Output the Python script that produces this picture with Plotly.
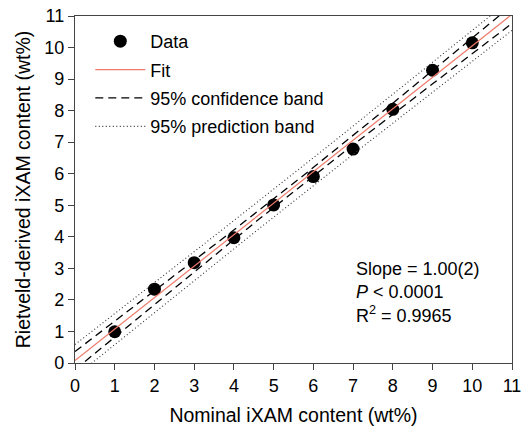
import numpy as np
import plotly.graph_objects as go

# Data
nominal = [1, 2, 3, 4, 5, 6, 7, 8, 9, 10]
rietveld = [0.99, 2.34, 3.18, 3.97, 5.01, 5.91, 6.78, 8.04, 9.28, 10.15]
x_ticks = [0, 1, 2, 3, 4, 5, 6, 7, 8, 9, 10, 11]
y_ticks = [0, 1, 2, 3, 4, 5, 6, 7, 8, 9, 10, 11]
stats_text = ["Slope = 1.00(2)", "<i>P</i> < 0.0001", "R<sup>2</sup> = 0.9965"]

# Linear regression and 95% bands computed from the data
x = np.array(nominal, dtype=float)
y = np.array(rietveld, dtype=float)
n = len(x)
slope, intercept = np.polyfit(x, y, 1)
resid = y - (slope * x + intercept)
s = np.sqrt(np.sum(resid ** 2) / (n - 2))
sxx = np.sum((x - x.mean()) ** 2)
t_crit = 2.306  # t(0.975, df=8)
xf = np.linspace(0, 11, 200)
yf = slope * xf + intercept
conf = t_crit * s * np.sqrt(1 / n + (xf - x.mean()) ** 2 / sxx)
pred = t_crit * s * np.sqrt(1 + 1 / n + (xf - x.mean()) ** 2 / sxx)

FONT = "Arial, Liberation Sans, sans-serif"
fig = go.Figure()
fig.add_trace(go.Scatter(x=nominal, y=rietveld, mode="markers", name="Data",
                         marker=dict(color="black", size=13), legendgroup="a"))
fig.add_trace(go.Scatter(x=xf, y=yf, mode="lines", name="Fit",
                         line=dict(color="#f07a6a", width=1.2), legendgroup="b"))
fig.add_trace(go.Scatter(x=xf, y=yf + conf, mode="lines", name="95% confidence band",
                         line=dict(color="black", width=1.3, dash="8px,5px"), legendgroup="c"))
fig.add_trace(go.Scatter(x=xf, y=yf - conf, mode="lines", showlegend=False,
                         line=dict(color="black", width=1.3, dash="8px,5px"), legendgroup="c"))
fig.add_trace(go.Scatter(x=xf, y=yf + pred, mode="lines", name="95% prediction band",
                         line=dict(color="#333", width=1.1, dash="1px,2.5px"), legendgroup="d"))
fig.add_trace(go.Scatter(x=xf, y=yf - pred, mode="lines", showlegend=False,
                         line=dict(color="#333", width=1.1, dash="1px,2.5px"), legendgroup="d"))

fig.add_annotation(x=0.638, y=0.305, xref="paper", yref="paper", xanchor="left", yanchor="top",
                   align="left", showarrow=False, text="<br>".join(stats_text),
                   font=dict(size=18, color="black", family=FONT))

axis_common = dict(showgrid=False, zeroline=False, showline=True, linecolor="#444",
                   linewidth=1.2, mirror=True, ticks="outside", ticklen=6, tickcolor="#444",
                   automargin=False,
                   tickfont=dict(size=18, color="black", family=FONT))
fig.update_xaxes(range=[0, 11], tickvals=x_ticks,
                 title=dict(text="Nominal iXAM content (wt%)", font=dict(size=19.5, family=FONT, color="black"),
                            standoff=13),
                 **axis_common)
fig.update_yaxes(range=[0, 11], tickvals=y_ticks,
                 title=dict(text="Rietveld-derived iXAM content (wt%)", font=dict(size=19.5, family=FONT, color="black"),
                            standoff=8),
                 **axis_common)
fig.update_layout(width=522, height=427, margin=dict(l=75, r=10, t=16, b=64),
                  plot_bgcolor="white", paper_bgcolor="white",
                  font=dict(family=FONT, color="black"),
                  legend=dict(x=0.035, y=0.98, xanchor="left", yanchor="top", bgcolor="rgba(0,0,0,0)",
                              font=dict(size=18, family=FONT, color="black"),
                              tracegroupgap=2, itemwidth=50),
                  showlegend=True)
fig.write_html("out.html")
